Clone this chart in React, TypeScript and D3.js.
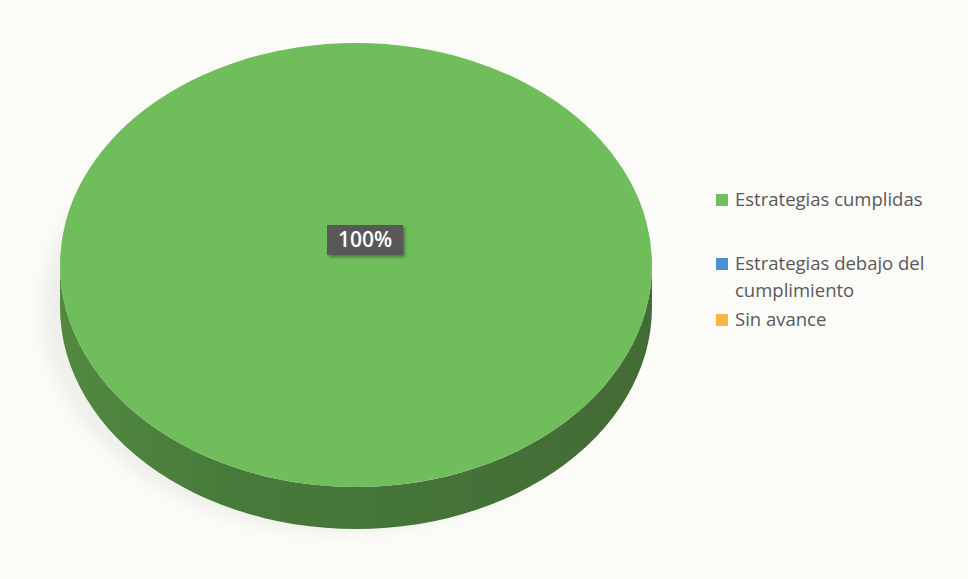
import React from 'react';
import * as d3 from 'd3';

// data
const categories = ['Estrategias cumplidas', 'Estrategias debajo del cumplimiento', 'Sin avance'];
const values = [100, 0, 0];
const legendLines = [['Estrategias cumplidas'], ['Estrategias debajo del', 'cumplimiento'], ['Sin avance']];

const topColors = ['#6fbd5b', '#4a8fd6', '#f5b841'];
const sideColors = ['#4a7d3d', '#2f6396', '#b5852c'];

const W = 968;
const H = 579;

export default function App() {
  const cx = 356;
  const cy = 265;
  const rx = 296;
  const ry = 222;
  const depth = 42;

  const pie = d3.pie<number>().sort(null).startAngle(Math.PI / 2).endAngle(Math.PI / 2 + 2 * Math.PI);
  const arcs = pie(values);
  const arc = d3.arc<d3.PieArcDatum<number>>().innerRadius(0).outerRadius(rx);
  const total = d3.sum(values);

  // side wall for the front half (screen angles 0..PI, y down)
  const pt = (a: number, dy: number) => [cx + rx * Math.cos(a), cy + dy + ry * Math.sin(a)];
  const sidePath = (a0: number, a1: number) => {
    const lo = Math.max(0, a0);
    const hi = Math.min(Math.PI, a1);
    if (hi <= lo) return null;
    const p = d3.path();
    const n = 60;
    for (let i = 0; i <= n; i++) {
      const [x, y] = pt(lo + ((hi - lo) * i) / n, 0);
      i === 0 ? p.moveTo(x, y) : p.lineTo(x, y);
    }
    for (let i = n; i >= 0; i--) {
      const [x, y] = pt(lo + ((hi - lo) * i) / n, depth);
      p.lineTo(x, y);
    }
    p.closePath();
    return p.toString();
  };

  // d3 pie angles (0 at top, clockwise) -> screen angles
  const toScreen = (a: number) => a - Math.PI / 2;

  const legendY = [200, 264, 320];
  const lineH = 27;

  return (
    <svg width={W} height={H} style={{ position: 'fixed', left: 0, top: 0 }}>
      <defs>
        <linearGradient id="sideGrad" x1="0" x2="1" y1="0" y2="0">
          <stop offset="0%" stopColor="#52893f" />
          <stop offset="30%" stopColor="#467a3a" />
          <stop offset="100%" stopColor="#436b35" />
        </linearGradient>
        <filter id="soft" x="-10%" y="-10%" width="120%" height="120%">
          <feGaussianBlur stdDeviation="8" />
        </filter>
        <filter id="lblShadow" x="-20%" y="-20%" width="150%" height="160%">
          <feDropShadow dx="2" dy="2" stdDeviation="1.5" floodColor="#000" floodOpacity="0.35" />
        </filter>
      </defs>
      <rect width={W} height={H} fill="#fbfbf8" />
      {/* faint photo shadow left of the pie */}
      <ellipse cx={cx - 18} cy={cy + 45} rx={rx} ry={ry} fill="#e6e6e2" opacity={0.6} filter="url(#soft)" />

      {arcs.map((d, i) => {
        const path = sidePath(toScreen(d.startAngle), toScreen(d.endAngle));
        return path ? (
          <path key={`s${i}`} d={path} fill={i === 0 ? 'url(#sideGrad)' : sideColors[i]} />
        ) : null;
      })}

      <g transform={`translate(${cx},${cy}) scale(1,${ry / rx})`}>
        {arcs.map((d, i) =>
          d.value > 0 ? <path key={`t${i}`} d={arc(d) ?? ''} fill={topColors[i]} /> : null
        )}
      </g>

      {arcs.map((d, i) => {
        if (d.value <= 0) return null;
        const lx = 365;
        const ly = 240;
        const pct = `${Math.round((d.value / total) * 100)}%`;
        return (
          <g key={`l${i}`}>
            <rect x={lx - 38} y={ly - 15} width={76} height={30} fill="#595959" filter="url(#lblShadow)" />
            <text
              x={lx}
              y={ly + 1}
              textAnchor="middle"
              dominantBaseline="middle"
              fill="#ffffff"
              fontFamily="'Open Sans', sans-serif"
              fontSize={21}
              fontWeight={600}
            >
              {pct}
            </text>
          </g>
        );
      })}

      <g fontFamily="'Open Sans', sans-serif" fontSize={18.5} fill="#595959">
        {categories.map((c, i) => (
          <g key={c}>
            <rect x={716} y={legendY[i] - 6} width={12} height={12} fill={topColors[i]} />
            {legendLines[i].map((t, j) => (
              <text key={j} x={735} y={legendY[i] + 6 + j * lineH}>
                {t}
              </text>
            ))}
          </g>
        ))}
      </g>
    </svg>
  );
}
